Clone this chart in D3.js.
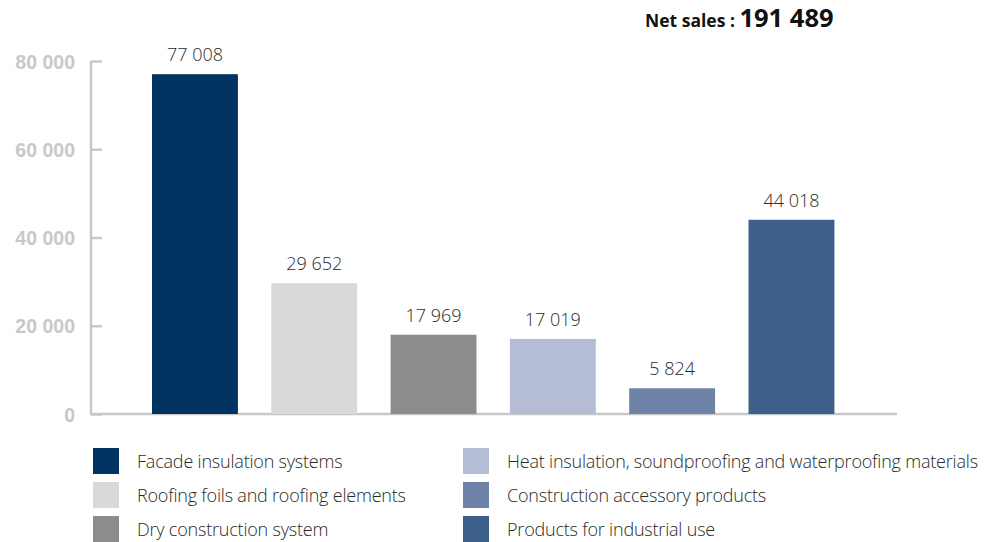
<!DOCTYPE html>
<html>
<head>
<meta charset="utf-8">
<script src="https://cdn.jsdelivr.net/npm/d3@7"></script>
<style>
  body { margin: 0; background: #fff; }
  svg { display: block; font-family: "Open Sans", sans-serif; }
  .axis path, .axis line { stroke: #c8c8c8; stroke-width: 2.5; }
  .axis text { fill: #c8c8c8; font-weight: 700; font-size: 19.5px; }
  .val { fill: #2a2a2a; font-size: 18px; font-weight: 300; }
  .leg { fill: #2a2a2a; font-size: 18px; font-weight: 300; letter-spacing: -0.2px; }
</style>
</head>
<body>
<svg id="chart" width="988" height="542"></svg>
<script>
const categories = [
  "Facade insulation systems",
  "Roofing foils and roofing elements",
  "Dry construction system",
  "Heat insulation, soundproofing and waterproofing materials",
  "Construction accessory products",
  "Products for industrial use"
];
const values = [77008, 29652, 17969, 17019, 5824, 44018];
const colors = ["#003361", "#d9d9d9", "#8c8c8c", "#b4bcd6", "#6f83a8", "#3e5f8a"];
const yTicks = [0, 20000, 40000, 60000, 80000];
const totalLabel = "Net sales : ";
const totalValue = 191489;

const fmt = v => d3.format(",")(v).replace(/,/g, " ");

const svg = d3.select("#chart");

const x = d3.scaleBand()
    .domain(categories)
    .range([135.3, 851.1])
    .paddingInner(0.28)
    .paddingOuter(0.14);

const y = d3.scaleLinear()
    .domain([0, 80000])
    .range([414, 61]);

// axis
const yAxis = d3.axisLeft(y)
    .tickValues(yTicks)
    .tickFormat(fmt)
    .tickSizeInner(-11)
    .tickSizeOuter(0);

const ga = svg.append("g")
    .attr("class", "axis")
    .attr("transform", "translate(91,0)")
    .call(yAxis);
ga.select(".domain").attr("d", `M0,${y(80000)}V${y(0)}`);
ga.selectAll("text").attr("x", -16).attr("dy", "0.36em");

// baseline
svg.append("line")
    .attr("x1", 90).attr("x2", 897)
    .attr("y1", y(0)).attr("y2", y(0))
    .attr("stroke", "#c8c8c8").attr("stroke-width", 2.5);

// bars
svg.append("g").selectAll("rect")
    .data(values)
    .join("rect")
    .attr("x", (d, i) => x(categories[i]))
    .attr("width", x.bandwidth())
    .attr("y", d => y(d))
    .attr("height", d => y(0) - y(d))
    .attr("fill", (d, i) => colors[i]);

svg.append("g").selectAll("text")
    .data(values)
    .join("text")
    .attr("class", "val")
    .attr("text-anchor", "middle")
    .attr("x", (d, i) => x(categories[i]) + x.bandwidth() / 2)
    .attr("y", d => y(d) - 13)
    .text(fmt);

// total
const t = svg.append("text")
    .attr("x", 645).attr("y", 27)
    .attr("font-weight", 700)
    .attr("fill", "#111");
t.append("tspan").attr("font-size", "17.5px").text(totalLabel);
t.append("tspan").attr("font-size", "25.5px").text(fmt(totalValue));

// legend
const leg = svg.append("g").selectAll("g")
    .data(categories)
    .join("g")
    .attr("transform", (d, i) => `translate(${i < 3 ? 93 : 463},${448 + (i % 3) * 34})`);
leg.append("rect")
    .attr("width", 26).attr("height", 26)
    .attr("fill", (d, i) => colors[i]);
leg.append("text")
    .attr("class", "leg")
    .attr("x", 44).attr("y", 19.5)
    .text(d => d);
</script>
</body>
</html>
